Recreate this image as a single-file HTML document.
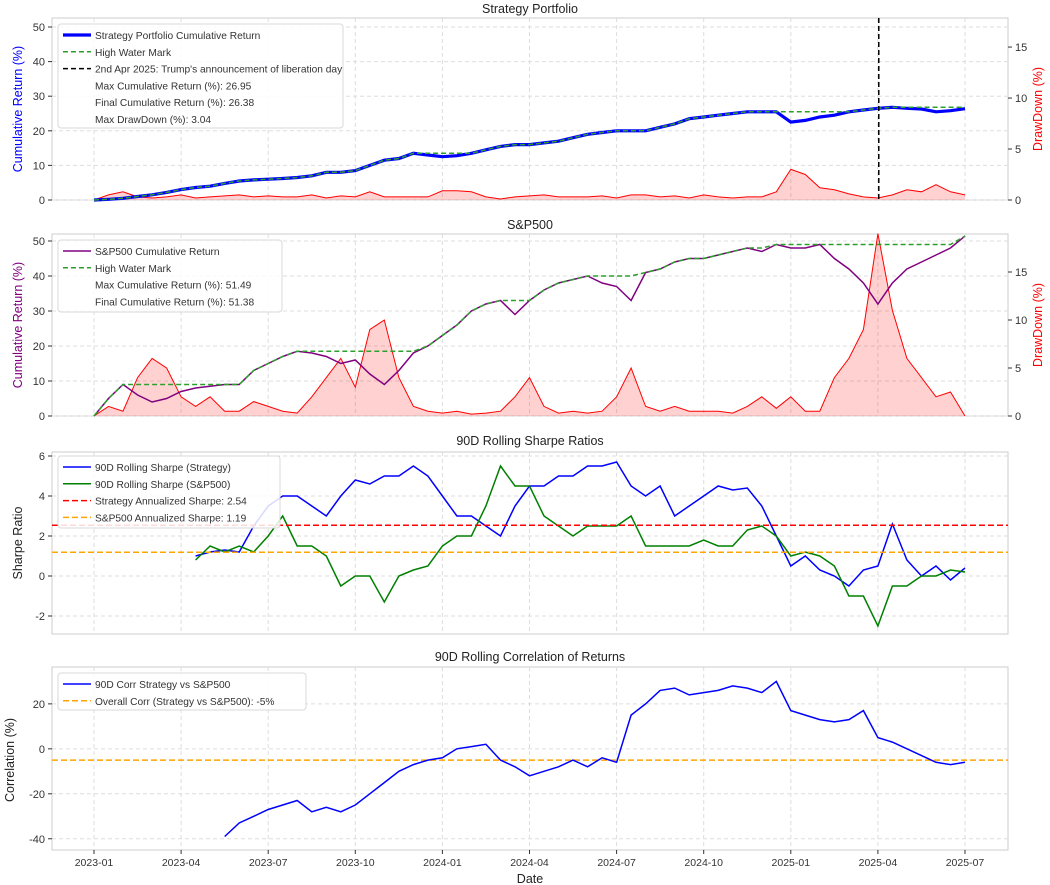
<!DOCTYPE html>
<html><head><meta charset="utf-8"><style>
body{margin:0;background:#fff;}
svg{font-family:"Liberation Sans",sans-serif;display:block}
</style></head><body>
<svg id="c" width="1050" height="885" xmlns="http://www.w3.org/2000/svg"></svg>
<script>
// x: months since 2023-01-01
const xTickLabels=["2023-01","2023-04","2023-07","2023-10","2024-01","2024-04","2024-07","2024-10","2025-01","2025-04","2025-07"];
const xTickMonths=[0,3,6,9,12,15,18,21,24,27,30];
// Strategy cumulative return, half-month steps from m=0
const stratCum=[0,0.2,0.5,1,1.5,2.2,3,3.6,4,4.8,5.5,5.8,6,6.2,6.5,7,8,8,8.5,10,11.5,12,13.5,13,12.5,12.8,13.5,14.5,15.5,16,16,16.5,17,18,19,19.5,20,20,20,21,22,23.5,24,24.5,25,25.5,25.5,25.5,22.5,23,24,24.5,25.5,26,26.5,26.8,26.5,26.3,25.5,25.8,26.4];
const stratDD=[0,0.5,0.8,0.3,0.2,0.3,0.5,0.2,0.3,0.4,0.5,0.3,0.4,0.3,0.3,0.5,0.2,0.4,0.3,0.8,0.3,0.3,0.3,0.3,0.9,0.9,0.8,0.3,0.1,0.3,0.4,0.5,0.3,0.3,0.3,0.4,0.2,0.5,0.5,0.3,0.4,0.2,0.5,0.3,0.2,0.3,0.3,0.8,3.0,2.5,1.2,1.0,0.6,0.3,0.2,0.5,1.0,0.8,1.5,0.8,0.5];
const spCum=[0,5,9,6,4,5,7,8,8.5,9,9,13,15,17,18.5,18,17,15,16,12,9,13,18,20,23,26,30,32,33,29,33,36,38,39,40,38,37,33,41,42,44,45,45,46,47,48,47,49,48,48,49,45,42,38,32,38,42,44,46,48,51.4];
const spDD=[0,1,0.5,4,6,5,2,1,2,0.5,0.5,1.5,1,0.5,0.3,2,4,6,3,9,10,4,1,0.5,0.3,0.5,0.2,0.3,0.5,2,4,1,0.3,0.5,0.3,0.5,2,5,1,0.5,1,0.5,0.5,0.5,0.3,1,2,0.8,2,0.5,0.5,4,6,9,19,11,6,4,2,2.5,0];
// rolling sharpe from m=3.5
const sharpeStrat=[1,1.2,1.3,1.2,2.5,3.5,4,4,3.5,3,4,4.8,4.6,5,5,5.5,5,4,3,3,2.5,2,3.5,4.5,4.5,5,5,5.5,5.5,5.7,4.5,4,4.5,3,3.5,4,4.5,4.3,4.4,3.5,2,0.5,1,0.3,0,-0.5,0.3,0.5,2.6,0.8,0,0.5,-0.2,0.4];
const sharpeSP=[0.8,1.5,1.2,1.5,1.2,2,3,1.5,1.5,1,-0.5,0,0,-1.3,0,0.3,0.5,1.5,2,2,3.5,5.5,4.5,4.5,3,2.5,2,2.5,2.5,2.5,3,1.5,1.5,1.5,1.5,1.8,1.5,1.5,2.3,2.5,2,1,1.2,1,0.5,-1,-1,-2.5,-0.5,-0.5,0,0,0.3,0.2];
const sharpeRefs=[2.54,1.19];
// rolling corr from m=4.5
const corrVals=[-39,-33,-30,-27,-25,-23,-28,-26,-28,-25,-20,-15,-10,-7,-5,-4,0,1,2,-5,-8,-12,-10,-8,-5,-8,-4,-6,15,20,26,27,24,25,26,28,27,25,30,17,15,13,12,13,17,5,3,0,-3,-6,-7,-6];
const corrOverall=-5;
const eventMonth=27.03;

const svg=document.getElementById('c');
const NS="http://www.w3.org/2000/svg";
function el(tag,attrs,parent){const e=document.createElementNS(NS,tag);for(const k in attrs)e.setAttribute(k,attrs[k]);(parent||svg).appendChild(e);return e;}
function txt(s,attrs){const e=el('text',attrs);e.textContent=s;return e;}
const X0=52,X1=1008;
const xs=m=>94+m*(965-94)/30;
function mkY(top,bot,vmin,vmax){return v=>bot-(v-vmin)/(vmax-vmin)*(bot-top);}
function frame(top,bot,name){
  const r=el('rect',{x:X0,y:top,width:X1-X0,height:bot-top,fill:'none',stroke:'#cccccc','stroke-width':1});
  
  xTickMonths.forEach(m=>{const g=el('line',{x1:xs(m),x2:xs(m),y1:top,y2:bot,stroke:'#dddddd','stroke-dasharray':'4,3'});
    });
}
function yTicks(ticks,y,top,bot,side,grid){
  ticks.forEach(v=>{const yy=y(v);
    if(grid){const g=el('line',{x1:X0,x2:X1,y1:yy,y2:yy,stroke:'#dddddd','stroke-dasharray':'4,3'});
      }
    const xx=side==='l'?X0:X1;
    el('line',{x1:xx,x2:side==='l'?xx-4:xx+4,y1:yy,y2:yy,stroke:'#333'});
    const t=txt(String(v),{x:side==='l'?X0-7:X1+7,y:yy+4,'font-size':11,fill:'#333','text-anchor':side==='l'?'end':'start'});
    });
}
function path(vals,start,y,attrs,name){
  const d=vals.map((v,i)=>(i?'L':'M')+xs(start+i*0.5).toFixed(1)+','+y(v).toFixed(1)).join('');
  const p=el('path',Object.assign({d:d,fill:'none'},attrs));
  return p;
}
function area(vals,start,y,name){
  const base=y(0);
  const d='M'+xs(start)+','+base+vals.map((v,i)=>'L'+xs(start+i*0.5).toFixed(1)+','+y(v).toFixed(1)).join('')+'L'+xs(start+(vals.length-1)*0.5)+','+base+'Z';
  const p=el('path',{d:d,fill:'rgba(255,0,0,0.18)',stroke:'none'});
  
  path(vals,start,y,{stroke:'#ff0000','stroke-width':1},name);
}
function runMax(a){let m=-1e9;return a.map(v=>(m=Math.max(m,v)));}
function title(s,y){const t=txt(s,{x:530,y:y,'font-size':12.5,fill:'#222','text-anchor':'middle'});
  }
function ylabel(s,x,yc,color,name){const t=txt(s,{x:x,y:yc,'font-size':12.5,fill:color,'text-anchor':'middle',transform:`rotate(-90 ${x} ${yc})`});
  }
function legend(x,y,w,h,items,name){
  const r=el('rect',{x:x,y:y,width:w,height:h,fill:'rgba(255,255,255,0.85)',stroke:'#d8d8d8',rx:3});
  
  items.forEach((it,i)=>{const yy=y+11+i*16.8;
    if(it.c){const l=el('line',{x1:x+5,x2:x+33,y1:yy,y2:yy,stroke:it.c,'stroke-width':it.w||1.5,'stroke-dasharray':it.d||''});
      }
    const t=txt(it.t,{x:x+37,y:yy+4,'font-size':10.2,fill:'#333'});
    });
}

// Panel 1
{const top=18,bot=200;frame(top,bot,'strategy-panel');
 const y=mkY(top,bot,0,52.6), yr=mkY(top,bot,0,17.85);
 yTicks([0,10,20,30,40,50],y,top,bot,'l',true);yTicks([0,5,10,15],yr,top,bot,'r',false);
 area(stratDD,0,yr,'strategy-drawdown');
 path(stratCum,0,y,{stroke:'#0000ff','stroke-width':3.2},'strategy-cumulative-line');
 path(runMax(stratCum),0,y,{stroke:'#2ca02c','stroke-width':1.5,'stroke-dasharray':'5,3'},'strategy-high-water-mark');
 const v=el('line',{x1:xs(eventMonth),x2:xs(eventMonth),y1:top,y2:bot,stroke:'#000','stroke-width':1.5,'stroke-dasharray':'5,3'});
 
 title('Strategy Portfolio',13);ylabel('Cumulative Return (%)',22,109,'#0000ff','y-axis-title-left');ylabel('DrawDown (%)',1042,109,'#ff0000','y-axis-title-right');
 legend(58,24,285,104,[{t:'Strategy Portfolio Cumulative Return',c:'#0000ff',w:3.2},{t:'High Water Mark',c:'#2ca02c',d:'5,3'},{t:"2nd Apr 2025: Trump's announcement of liberation day",c:'#000',d:'5,3'},{t:'Max Cumulative Return (%): 26.95'},{t:'Final Cumulative Return (%): 26.38'},{t:'Max DrawDown (%): 3.04'}],'strategy-legend');}
// Panel 2
{const top=234,bot=416;frame(top,bot,'sp500-panel');
 const y=mkY(top,bot,0,52), yr=mkY(top,bot,0,18.96);
 yTicks([0,10,20,30,40,50],y,top,bot,'l',true);yTicks([0,5,10,15],yr,top,bot,'r',false);
 area(spDD,0,yr,'sp500-drawdown');
 path(spCum,0,y,{stroke:'#800080','stroke-width':1.5},'sp500-cumulative-line');
 path(runMax(spCum),0,y,{stroke:'#2ca02c','stroke-width':1.5,'stroke-dasharray':'5,3'},'sp500-high-water-mark');
 title('S&P500',229);ylabel('Cumulative Return (%)',22,325,'#800080','y-axis-title-left');ylabel('DrawDown (%)',1042,325,'#ff0000','y-axis-title-right');
 legend(58,240,224,72,[{t:'S&P500 Cumulative Return',c:'#800080'},{t:'High Water Mark',c:'#2ca02c',d:'5,3'},{t:'Max Cumulative Return (%): 51.49'},{t:'Final Cumulative Return (%): 51.38'}],'sp500-legend');}
// Panel 3
{const top=452,bot=634;frame(top,bot,'sharpe-panel');
 const y=mkY(top,bot,-2.9,6.2);
 yTicks([-2,0,2,4,6],y,top,bot,'l',true);
 path(sharpeStrat,3.5,y,{stroke:'#0000ff','stroke-width':1.5},'rolling-sharpe-strategy');
 path(sharpeSP,3.5,y,{stroke:'#008000','stroke-width':1.5},'rolling-sharpe-sp500');
 const cols=['#ff0000','#ffa500'];
 sharpeRefs.forEach((v,i)=>{const l=el('line',{x1:X0,x2:X1,y1:y(v),y2:y(v),stroke:cols[i],'stroke-width':1.5,'stroke-dasharray':'6,3'});
   });
 title('90D Rolling Sharpe Ratios',445);ylabel('Sharpe Ratio',22,543,'#222','y-axis-title');
 legend(58,456,222,72,[{t:'90D Rolling Sharpe (Strategy)',c:'#0000ff'},{t:'90D Rolling Sharpe (S&P500)',c:'#008000'},{t:'Strategy Annualized Sharpe: 2.54',c:'#ff0000',d:'6,3'},{t:'S&P500 Annualized Sharpe: 1.19',c:'#ffa500',d:'6,3'}],'sharpe-legend');}
// Panel 4
{const top=667,bot=850;frame(top,bot,'correlation-panel');
 const y=mkY(top,bot,-45,36.4);
 yTicks([-40,-20,0,20],y,top,bot,'l',true);
 const l=el('line',{x1:X0,x2:X1,y1:y(corrOverall),y2:y(corrOverall),stroke:'#ffa500','stroke-width':1.5,'stroke-dasharray':'6,3'});
 
 path(corrVals,4.5,y,{stroke:'#0000ff','stroke-width':1.5},'rolling-corr-line');
 title('90D Rolling Correlation of Returns',661);ylabel('Correlation (%)',14,760,'#222','y-axis-title');
 legend(58,673,248,37,[{t:'90D Corr Strategy vs S&P500',c:'#0000ff'},{t:'Overall Corr (Strategy vs S&P500): -5%',c:'#ffa500',d:'6,3'}],'corr-legend');
 xTickMonths.forEach((m,i)=>{el('line',{x1:xs(m),x2:xs(m),y1:bot,y2:bot+4,stroke:'#333'});
   const t=txt(xTickLabels[i],{x:xs(m),y:bot+16,'font-size':10.5,fill:'#333','text-anchor':'middle'});
   });
 const xt=txt('Date',{x:530,y:883,'font-size':12.5,fill:'#222','text-anchor':'middle'});
 }
</script>
</body></html>
